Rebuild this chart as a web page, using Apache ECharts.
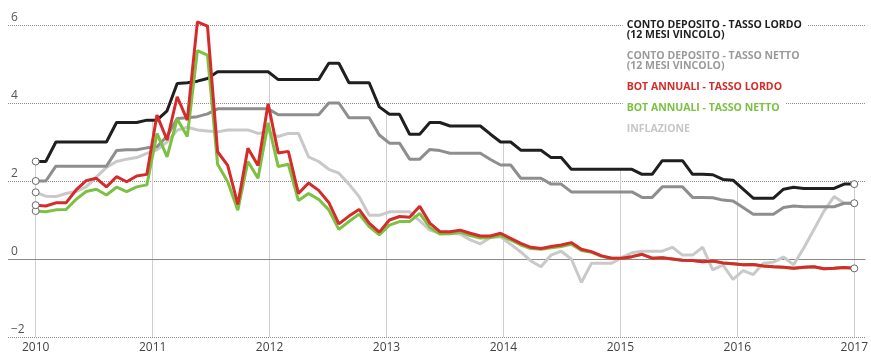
<!DOCTYPE html>
<html>
<head>
<meta charset="UTF-8"/>
<title>Conto deposito, BOT annuali e inflazione</title>
<style>
    html, body { margin: 0; padding: 0; background: #fff; }
    #chart { width: 871px; height: 355px; }
</style>
</head>
<body>
<div id="chart"></div>
<script src="https://cdn.jsdelivr.net/npm/echarts@6/dist/echarts.min.js"></script>
<script>
    // etichette degli anni (asse x) e valori, in %
    var yearLabels = ['2010', '2011', '2012', '2013', '2014', '2015', '2016', '2017'];

    var contoLordo = [2.5, 2.5, 3.0, 3.0, 3.0, 3.0, 3.0, 3.0, 3.5, 3.5,
        3.5, 3.56, 3.56, 3.8, 4.5, 4.52, 4.56, 4.63, 4.8, 4.8,
        4.8, 4.8, 4.8, 4.8, 4.6, 4.6, 4.6, 4.6, 4.6, 5.02,
        5.02, 4.52, 4.52, 4.52, 3.9, 3.71, 3.71, 3.2, 3.2, 3.5,
        3.5, 3.41, 3.41, 3.41, 3.41, 3.2, 3.0, 3.0, 2.79, 2.79,
        2.79, 2.6, 2.6, 2.3, 2.3, 2.3, 2.3, 2.3, 2.3, 2.3,
        2.17, 2.17, 2.52, 2.52, 2.52, 2.17, 2.17, 2.16, 2.04, 2.02,
        1.79, 1.56, 1.56, 1.56, 1.79, 1.84, 1.81, 1.81, 1.81, 1.81,
        1.92, 1.92];

    var contoNetto = [2.0, 2.0, 2.38, 2.38, 2.38, 2.38, 2.38, 2.38, 2.78, 2.8,
        2.8, 2.85, 2.88, 3.15, 3.6, 3.62, 3.65, 3.72, 3.85, 3.85,
        3.85, 3.85, 3.85, 3.85, 3.7, 3.7, 3.7, 3.7, 3.7, 4.0,
        4.0, 3.62, 3.62, 3.62, 3.18, 2.97, 2.97, 2.56, 2.56, 2.81,
        2.78, 2.71, 2.71, 2.71, 2.71, 2.55, 2.41, 2.41, 2.07, 2.07,
        2.07, 1.92, 1.92, 1.72, 1.72, 1.72, 1.72, 1.72, 1.72, 1.72,
        1.58, 1.58, 1.85, 1.85, 1.85, 1.58, 1.58, 1.57, 1.51, 1.49,
        1.32, 1.15, 1.15, 1.15, 1.32, 1.36, 1.34, 1.34, 1.34, 1.34,
        1.43, 1.43];

    var botLordo = [1.38, 1.36, 1.44, 1.44, 1.77, 2.01, 2.07, 1.85, 2.11, 1.98,
        2.13, 2.17, 3.69, 3.05, 4.16, 3.56, 6.08, 5.97, 2.75, 2.4,
        1.4, 2.84, 2.4, 3.98, 2.72, 2.76, 1.68, 1.95, 1.76, 1.45,
        0.9, 1.1, 1.27, 0.92, 0.69, 1.0, 1.09, 1.07, 1.35, 0.92,
        0.7, 0.7, 0.74, 0.66, 0.59, 0.59, 0.66, 0.53, 0.4, 0.3,
        0.27, 0.32, 0.36, 0.42, 0.25, 0.19, 0.08, 0.02, 0.02, 0.06,
        0.12, 0.02, 0.03, 0.0, -0.03, -0.04, -0.07, -0.05, -0.1, -0.12,
        -0.15, -0.14, -0.18, -0.2, -0.21, -0.24, -0.21, -0.2, -0.25, -0.24,
        -0.22, -0.24];

    var botNetto = [1.23, 1.21, 1.26, 1.27, 1.53, 1.73, 1.79, 1.64, 1.84, 1.73,
        1.85, 1.9, 3.22, 2.62, 3.59, 3.14, 5.34, 5.23, 2.43, 1.98,
        1.25, 2.5, 2.07, 3.49, 2.37, 2.43, 1.5, 1.68, 1.53, 1.26,
        0.76, 0.96, 1.15, 0.83, 0.62, 0.87, 0.96, 0.96, 1.17, 0.81,
        0.64, 0.65, 0.69, 0.6, 0.54, 0.55, 0.6, 0.49, 0.36, 0.27,
        0.25, 0.29, 0.32, 0.38, 0.22, 0.17, 0.07, 0.02, 0.02, 0.06,
        0.12, 0.02, 0.03, 0.0, -0.03, -0.04, -0.07, -0.05, -0.1, -0.12,
        -0.15, -0.14, -0.18, -0.2, -0.21, -0.24, -0.21, -0.2, -0.25, -0.24,
        -0.22, -0.24];

    var inflazione = [1.71, 1.61, 1.6, 1.68, 1.73, 1.85, 2.1, 2.35, 2.5, 2.56,
        2.6, 2.71, 2.8, 3.0, 3.3, 3.38, 3.31, 3.28, 3.26, 3.31,
        3.31, 3.31, 3.22, 3.26, 3.14, 3.22, 3.22, 2.62, 2.5, 2.3,
        2.2, 1.92, 1.6, 1.12, 1.12, 1.21, 1.21, 1.21, 0.98, 0.74,
        0.66, 0.66, 0.64, 0.49, 0.39, 0.55, 0.57, 0.38, 0.18, -0.05,
        -0.2, 0.1, 0.2, 0.0, -0.6, -0.11, -0.11, -0.11, 0.04, 0.16,
        0.2, 0.2, 0.2, 0.3, 0.1, 0.1, 0.3, -0.28, -0.15, -0.52,
        -0.3, -0.4, -0.11, -0.08, 0.05, -0.15, 0.28, 0.75, 1.23, 1.6,
        1.43, 1.43];

    var nLast = contoLordo.length - 1;
    // posizione degli anni lungo l'indice dei punti
    var yearPos = yearLabels.map(function (y, k) { return k * nLast / (yearLabels.length - 1); });

    var toPairs = function (arr) {
        return arr.map(function (v, i) { return [i, v]; });
    };

    // valore della linea nera in una posizione qualsiasi (per le righe verticali)
    var contoAt = function (p) {
        var i = Math.floor(p);
        if (i >= nLast) return contoLordo[nLast];
        var t = p - i;
        return contoLordo[i] * (1 - t) + contoLordo[i + 1] * t;
    };

    var makeLine = function (name, data, color, startMark, endMark) {
        return {
            name: name,
            type: 'line',
            data: toPairs(data),
            clip: false,
            symbol: 'circle',
            showSymbol: true,
            showAllSymbol: true,
            symbolSize: function (val, params) {
                if (params.dataIndex === 0 && startMark) return 7;
                if (params.dataIndex === data.length - 1 && endMark) return 7;
                return 0;
            },
            lineStyle: { color: color, width: 3 },
            itemStyle: { color: '#fff', borderColor: '#666', borderWidth: 1 },
            emphasis: { disabled: true },
            silent: true
        };
    };

    var names = [
        'CONTO DEPOSITO - TASSO LORDO\n(12 MESI VINCOLO)',
        'CONTO DEPOSITO - TASSO NETTO\n(12 MESI VINCOLO)',
        'BOT ANNUALI - TASSO LORDO',
        'BOT ANNUALI - TASSO NETTO',
        'INFLAZIONE'
    ];
    var colors = ['#1f1f1f', '#8e8e8e', '#d52b2b', '#7bc143', '#c9c9c9'];
    var legendColors = ['#1f1f1f', '#9a9a9a', '#d52b2b', '#7bc143', '#c6c6c6'];

    var inflSeries = makeLine(names[4], inflazione, colors[4], true, false);
    var guideData = yearPos.map(function (p) {
        return [{ coord: [p, contoAt(p)] }, { coord: [p, -2] }];
    });
    guideData.push([
        { xAxis: -2.74, yAxis: 0, lineStyle: { color: '#8a8a8a', width: 1, type: 'solid' } },
        { xAxis: 82.12, yAxis: 0 }
    ]);
    inflSeries.markLine = {
        silent: true,
        z: 1,
        symbol: ['none', 'none'],
        label: { show: false },
        emphasis: { disabled: true },
        lineStyle: { color: '#cfcfcf', width: 1, type: 'solid' },
        data: guideData
    };

    const chart = echarts.init(document.getElementById('chart'));
    chart.setOption({
        animation: false,
        grid: { left: 8, right: 5, top: 25, bottom: 18 },
        legend: {
            orient: 'vertical',
            left: 617.7,
            top: 20,
            padding: 0,
            itemGap: 10,
            itemWidth: 0,
            itemHeight: 0,
            icon: 'none',
            selectedMode: false,
            data: names.map(function (n, k) {
                return { name: n, textStyle: { color: legendColors[k] } };
            }),
            textStyle: {
                fontFamily: 'Open Sans',
                fontWeight: 'bold',
                fontSize: 10.5,
                lineHeight: 9.7,
                backgroundColor: '#fff',
                padding: [0, 6, 0, 4]
            }
        },
        xAxis: {
            type: 'value',
            min: -2.74,
            max: 82.12,
            axisLine: { show: false },
            axisTick: { show: false },
            splitLine: { show: false },
            axisLabel: {
                customValues: yearPos,
                margin: 5,
                color: '#444',
                fontFamily: 'Open Sans',
                fontSize: 12,
                formatter: function (v) {
                    var k = Math.round(v * (yearLabels.length - 1) / nLast);
                    return yearLabels[k];
                }
            }
        },
        yAxis: {
            type: 'value',
            min: -2,
            max: 6,
            interval: 2,
            axisLine: { show: false },
            axisTick: { show: false },
            splitLine: { lineStyle: { type: 'dotted', color: '#8c8c8c', width: 1 } },
            axisLabel: {
                inside: true,
                margin: 3,
                verticalAlign: 'bottom',
                padding: [0, 0, 1, 0],
                color: '#555',
                fontFamily: 'Open Sans',
                fontSize: 12,
                formatter: function (v) { return v < 0 ? '\u2212' + Math.abs(v) : String(v); }
            }
        },
        series: [
            inflSeries,
            makeLine(names[1], contoNetto, colors[1], true, true),
            makeLine(names[0], contoLordo, colors[0], true, true),
            makeLine(names[3], botNetto, colors[3], true, false),
            makeLine(names[2], botLordo, colors[2], true, true)
        ]
    });
</script>
</body>
</html>
